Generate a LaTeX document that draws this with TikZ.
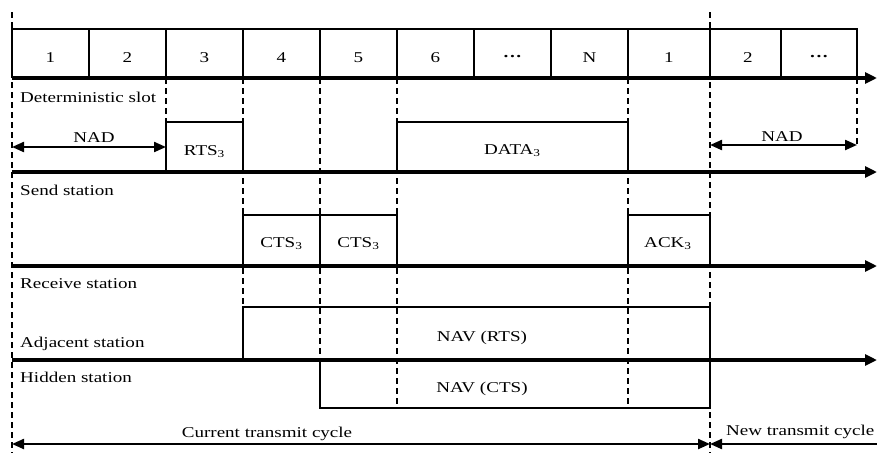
\documentclass[tikz,border=0pt]{standalone}
\usepackage{fontspec}
\setmainfont{Liberation Serif}
\usetikzlibrary{arrows.meta}
% horizontally widened lettering
\newcommand{\wide}[1]{\scalebox{1.27}[1]{#1}}

\begin{document}
\begin{tikzpicture}[x=1pt,y=-1pt,
  axis/.style={line width=3.6pt,-{Triangle[length=12pt,width=11pt]}},
  frame/.style={line width=1.2pt},
  guide/.style={line width=1.9pt,dash pattern=on 6pt off 4pt},
  span/.style={line width=2.2pt,{Triangle[length=12pt,width=10pt]}-{Triangle[length=12pt,width=10pt]}},
  halfspan/.style={line width=2.2pt,-{Triangle[length=12pt,width=10pt]}},
  lbl/.style={font=\fontsize{15}{18}\selectfont,inner sep=0pt,anchor=base},
  lbll/.style={lbl,anchor=base west},
  ]
\useasboundingbox (0,0) rectangle (877,453);

% time axes
\coordinate (a0) at (12,78);   \coordinate (a0e) at (877,78);
\coordinate (a1) at (12,172);  \coordinate (a1e) at (877,172);
\coordinate (a2) at (12,266);  \coordinate (a2e) at (877,266);
\coordinate (a3) at (12,360);  \coordinate (a3e) at (877,360);

% slot row
\draw[frame] (12,78) |- (857,29) -- (857,78);
\foreach \x in {89,166,243,320,397,474,551,628,710,781}
  \draw[frame] (\x,29) -- (\x,78);
\foreach \x/\t/\n in {50.5/1/s1,127.5/2/s2,204.5/3/s3,281.5/4/s4,358.5/5/s5,
                      435.5/6/s6,589.5/N/sN,669/1/t1,748/2/t2}
  \node[lbl] (\n) at (\x,62) {\wide{\t}};
\node[lbl] (sd1) at (512.5,61) {\wide{\textbf{···}}};
\node[lbl] (sd2) at (819,61) {\wide{\textbf{···}}};

% frames on the send station line
\draw[frame] (166,172) |- (243,122) -- (243,172);
\draw[frame] (397,172) |- (628,122) -- (628,172);
% frames on the receive station line
\draw[frame] (243,266) |- (397,215) -- (397,266);
\draw[frame] (320,215) -- (320,266);
\draw[frame] (628,266) |- (710,215) -- (710,266);
% NAV intervals
\draw[frame] (243,360) |- (710,307) -- (710,360);
\draw[frame] (320,360) |- (710,408) -- (710,360);

% axes
\draw[axis] (a0) -- (a0e);
\draw[axis] (a1) -- (a1e);
\draw[axis] (a2) -- (a2e);
\draw[axis] (a3) -- (a3e);

% slot boundary guides
\draw[guide] (12,12) -- (12,453);
\draw[guide] (166,78) -- (166,122);
\draw[guide] (243,78) -- (243,307);
\draw[guide] (320,78) -- (320,360);
\draw[guide] (397,78) -- (397,408);
\draw[guide] (628,78) -- (628,408);
\draw[guide] (710,12) -- (710,453);
\draw[guide] (857,78) -- (857,147);

% NAD spans
\coordinate (n1a) at (12,147);  \coordinate (n1b) at (166,147);
\coordinate (n2a) at (710,145); \coordinate (n2b) at (857,145);
\draw[span] (n1a) -- (n1b);
\draw[span] (n2a) -- (n2b);

% transmit cycles
\coordinate (c0) at (12,444); \coordinate (c1) at (710,444); \coordinate (c2) at (877,444);
\draw[span] (c0) -- (c1);
\draw[halfspan] (c2) -- (c1);

% labels
\node[lbll] (ldet) at (20,102) {\wide{Deterministic slot}};
\node[lbl] (lnad1) at (94,142) {\wide{NAD}};
\node[lbl] (lnad2) at (782,141) {\wide{NAD}};
\node[lbl] (lrts) at (204.5,155) {\wide{RTS\textsubscript{3}}};
\node[lbl] (ldata) at (512.5,154) {\wide{DATA\textsubscript{3}}};
\node[lbll] (lsend) at (20,195) {\wide{Send station}};
\node[lbl] (lcts1) at (281.5,247) {\wide{CTS\textsubscript{3}}};
\node[lbl] (lcts2) at (358.5,247) {\wide{CTS\textsubscript{3}}};
\node[lbl] (lack) at (668,247) {\wide{ACK\textsubscript{3}}};
\node[lbll] (lrecv) at (20,288) {\wide{Receive station}};
\node[lbll] (ladj) at (20,347) {\wide{Adjacent station}};
\node[lbl] (lnavr) at (482,341) {\wide{NAV (RTS)}};
\node[lbll] (lhid) at (20,382) {\wide{Hidden station}};
\node[lbl] (lnavc) at (482,392) {\wide{NAV (CTS)}};
\node[lbl] (lcur) at (267,437) {\wide{Current transmit cycle}};
\node[lbll] (lnew) at (726,435) {\wide{New transmit cycle}};
\end{tikzpicture}
\end{document}
